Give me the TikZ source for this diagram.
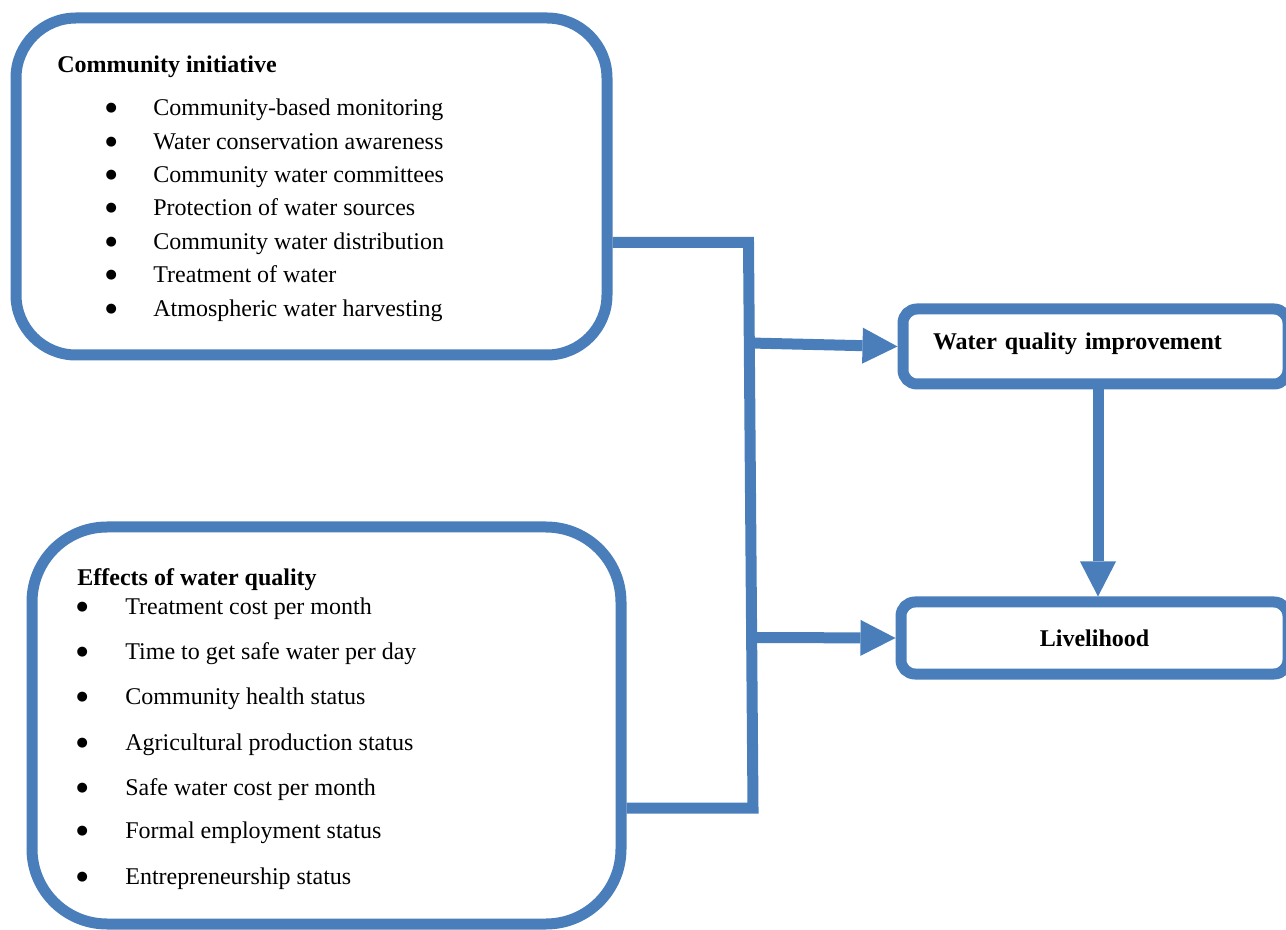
\documentclass[12pt,tikz,border=0pt]{standalone}
\usepackage{fontspec}
\setmainfont{Liberation Serif}
\newfontfamily\symfont{DejaVu Sans}
\usepackage{tikz}
\usetikzlibrary{arrows.meta}
\definecolor{boxblue}{RGB}{74,126,187}
\newcommand{\bpt}[1]{\makebox[10pt][c]{\raisebox{1.8pt}{\fontsize{6.5}{7}\symfont ●}}\hspace{#1}}

\begin{document}
\begin{tikzpicture}[x=0.5pt, y=-0.5pt,
	blockbig/.style={draw=boxblue, line width=5.5pt, inner sep=0pt},
	blocksmall/.style={draw=boxblue, line width=5.5pt, rounded corners=7pt, minimum width=192.5pt},
	item/.style={anchor=base west, inner sep=0pt},
	link/.style={draw=boxblue, line width=5.5pt},
	flow/.style={link, -{Triangle[length=17.5pt, width=18pt, line width=0pt]}}]
	\useasboundingbox (0,0) rectangle (1286,930);
	
	% left boxes
	\node[blockbig, rounded corners=30pt, minimum width=295.5pt, minimum height=168.5pt] (ci) at (311.5,186.5) {};
	\node[blockbig, rounded corners=37.5pt, minimum width=294.5pt, minimum height=198.5pt] (ew) at (326.5,725.5) {};
	
	\node[item, font=\bfseries] (cit) at (57,73) {Community initiative};
	\node[item] (ci1) at (101,115.5) {\bpt{16pt}Community-based monitoring};
	\node[item] (ci2) at (101,149.5) {\bpt{16pt}Water conservation awareness};
	\node[item] (ci3) at (101,182.5) {\bpt{16pt}Community water committees};
	\node[item] (ci4) at (101,215.5) {\bpt{16pt}Protection of water sources};
	\node[item] (ci5) at (101,249.5) {\bpt{16pt}Community water distribution};
	\node[item] (ci6) at (101,282.5) {\bpt{16pt}Treatment of water};
	\node[item] (ci7) at (101,316.5) {\bpt{16pt}Atmospheric water harvesting};
	
	\node[item, font=\bfseries] (ewt) at (77,586) {Effects of water quality};
	\node[item] (ew1) at (72,614.5) {\bpt{16.5pt}Treatment cost per month};
	\node[item] (ew2) at (72,659.5) {\bpt{16.5pt}Time to get safe water per day};
	\node[item] (ew3) at (72,704.5) {\bpt{16.5pt}Community health status};
	\node[item] (ew4) at (72,750.5) {\bpt{16.5pt}Agricultural production status};
	\node[item] (ew5) at (72,795.5) {\bpt{16.5pt}Safe water cost per month};
	\node[item] (ew6) at (72,838.5) {\bpt{16.5pt}Formal employment status};
	\node[item] (ew7) at (72,884.5) {\bpt{16.5pt}Entrepreneurship status};
	
	% right boxes
	\node[blocksmall, minimum height=37.5pt, text width=162.5pt, text depth=5.5pt, inner xsep=15pt, align=left, font=\bfseries] (wqi) at (1095.5,346.5) {Water quality improvement};
	\node[blocksmall, minimum width=193.5pt, minimum height=36pt, font=\bfseries] (lh) at (1094.5,638) {Livelihood};
	
	% connectors
	\coordinate (jt) at (748.5,242.5);
	\coordinate (jb) at (753,808);
	\draw[link] (ci.east |- jt) -- (jt) -- (jb) -- (ew.east |- jb);
	\coordinate (s1) at (750,343);
	\coordinate (s2) at (752,637.5);
	\draw[flow] (s1) -- (wqi.west);
	\draw[flow] (s2) -- (lh.west);
	\coordinate (vx) at (1098,0);
	\draw[flow] (wqi.south -| vx) -- (lh.north -| vx);
\end{tikzpicture}
\end{document}
